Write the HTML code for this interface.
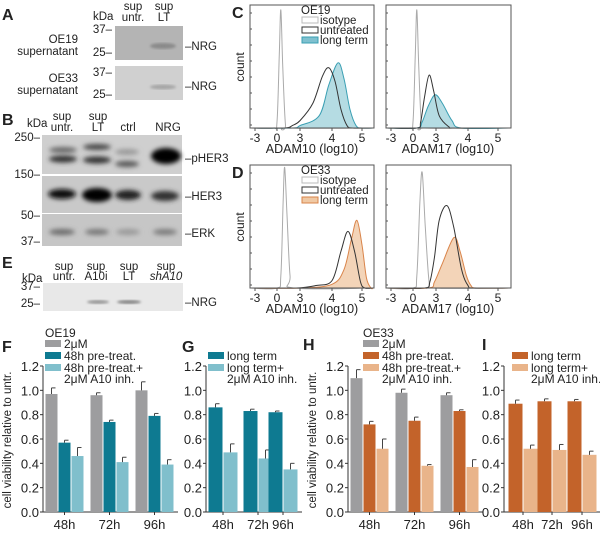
<!DOCTYPE html>
<html><head><meta charset="utf-8"><style>
body{margin:0;background:#fff}
svg{display:block;font-family:"Liberation Sans",sans-serif}
</style></head><body>
<svg id="fig" width="600" height="535" viewBox="0 0 600 535" xmlns="http://www.w3.org/2000/svg">
<defs>
<filter id="blur2" x="-50%" y="-100%" width="200%" height="300%"><feGaussianBlur stdDeviation="2.5"/></filter>
<filter id="blur1"><feGaussianBlur stdDeviation="1.2"/></filter>
</defs>
<g font-size="11.5" fill="#222">
<!-- Panel A -->
<text x="2" y="20" font-size="16" font-weight="bold">A</text>
<text x="93" y="20">kDa</text>
<text x="133" y="10" text-anchor="middle">sup</text>
<text x="133" y="21" text-anchor="middle">untr.</text>
<text x="164" y="10" text-anchor="middle">sup</text>
<text x="164" y="21" text-anchor="middle">LT</text>
<text x="78" y="43" text-anchor="end">OE19</text>
<text x="78" y="55" text-anchor="end">supernatant</text>
<text x="78" y="82" text-anchor="end">OE33</text>
<text x="78" y="94" text-anchor="end">supernatant</text>
<rect x="115" y="26" width="68" height="34" fill="#b4b4b4"/>
<ellipse cx="163" cy="46" rx="13" ry="3" fill="#8a8a8a" filter="url(#blur1)"/>
<rect x="115" y="66" width="68" height="34" fill="#d0d0d0"/>
<ellipse cx="163" cy="87" rx="13" ry="2.5" fill="#a6a6a6" filter="url(#blur1)"/>
<text x="112" y="33" text-anchor="end">37–</text>
<text x="112" y="56" text-anchor="end">25–</text>
<text x="112" y="76" text-anchor="end">37–</text>
<text x="112" y="98" text-anchor="end">25–</text>
<text x="185" y="50">–NRG</text>
<text x="185" y="90">–NRG</text>
<!-- Panel B -->
<text x="2" y="125" font-size="16" font-weight="bold">B</text>
<text x="27" y="127">kDa</text>
<text x="62" y="120" text-anchor="middle">sup</text><text x="62" y="131" text-anchor="middle">untr.</text>
<text x="98" y="120" text-anchor="middle">sup</text><text x="98" y="131" text-anchor="middle">LT</text>
<text x="128" y="131" text-anchor="middle">ctrl</text>
<text x="168" y="131" text-anchor="middle">NRG</text>
<rect x="42" y="135" width="140" height="39" fill="#cfcfcf"/>
<ellipse cx="63" cy="150" rx="14" ry="3" fill="#666" filter="url(#blur2)"/>
<ellipse cx="63" cy="159" rx="14" ry="3.5" fill="#333" filter="url(#blur2)"/>
<ellipse cx="97" cy="147" rx="14" ry="3" fill="#444" filter="url(#blur2)"/>
<ellipse cx="97" cy="160" rx="14" ry="3.5" fill="#333" filter="url(#blur2)"/>
<ellipse cx="127" cy="152" rx="12" ry="3" fill="#999" filter="url(#blur2)"/>
<ellipse cx="127" cy="164" rx="12" ry="3" fill="#555" filter="url(#blur2)"/>
<ellipse cx="166" cy="156" rx="15" ry="8" fill="#000" filter="url(#blur2)"/>
<rect x="42" y="176" width="140" height="37" fill="#c9c9c9"/>
<ellipse cx="62" cy="194" rx="14" ry="5" fill="#111" filter="url(#blur2)"/>
<ellipse cx="97" cy="195" rx="15" ry="7" fill="#000" filter="url(#blur2)"/>
<ellipse cx="128" cy="195" rx="13" ry="5" fill="#222" filter="url(#blur2)"/>
<ellipse cx="165" cy="196" rx="14" ry="5" fill="#333" filter="url(#blur2)"/>
<rect x="42" y="214" width="140" height="32" fill="#c6c6c6"/>
<ellipse cx="62" cy="232" rx="13" ry="3" fill="#6a6a6a" filter="url(#blur2)"/>
<ellipse cx="97" cy="232" rx="12" ry="3" fill="#777" filter="url(#blur2)"/>
<ellipse cx="128" cy="232" rx="12" ry="3" fill="#999" filter="url(#blur2)"/>
<ellipse cx="165" cy="232" rx="12" ry="3" fill="#7a7a7a" filter="url(#blur2)"/>
<text x="40" y="141" text-anchor="end">250–</text>
<text x="40" y="178" text-anchor="end">150–</text>
<text x="40" y="219" text-anchor="end">50–</text>
<text x="40" y="245" text-anchor="end">37–</text>
<text x="185" y="162">–pHER3</text>
<text x="185" y="200">–HER3</text>
<text x="185" y="237">–ERK</text>
<!-- Panel E -->
<text x="2" y="268" font-size="16" font-weight="bold">E</text>
<text x="22" y="282">kDa</text>
<text x="64" y="270" text-anchor="middle">sup</text><text x="64" y="280" text-anchor="middle">untr.</text>
<text x="96" y="270" text-anchor="middle">sup</text><text x="96" y="280" text-anchor="middle">A10i</text>
<text x="129" y="270" text-anchor="middle">sup</text><text x="129" y="280" text-anchor="middle">LT</text>
<text x="166" y="270" text-anchor="middle">sup</text><text x="166" y="280" text-anchor="middle" font-style="italic">shA10</text>
<rect x="43" y="283" width="140" height="28" fill="#e8e8e8"/>
<ellipse cx="98" cy="302" rx="11" ry="2" fill="#999" filter="url(#blur1)"/>
<ellipse cx="129" cy="302" rx="12" ry="2" fill="#888" filter="url(#blur1)"/>
<text x="40" y="290" text-anchor="end">37–</text>
<text x="40" y="307" text-anchor="end">25–</text>
<text x="185" y="306">–NRG</text>
<!-- Panel C/D labels -->
<text x="232" y="18" font-size="16" font-weight="bold">C</text>
<text x="232" y="178" font-size="16" font-weight="bold">D</text>
<text x="244" y="67" transform="rotate(-90 244 67)" text-anchor="middle" font-size="12">count</text>
<text x="244" y="227" transform="rotate(-90 244 227)" text-anchor="middle" font-size="12">count</text>
<!-- Bar panel labels -->
<text x="2" y="352" font-size="16" font-weight="bold">F</text>
<text x="182" y="352" font-size="16" font-weight="bold">G</text>
<text x="303" y="350" font-size="16" font-weight="bold">H</text>
<text x="482" y="350" font-size="16" font-weight="bold">I</text>
</g>
<g id="dyn"></g>
</svg>
<script>
// ---------- Histogram data (value in log10 axis units, fraction of box height) ----------
const histTickValues = [-3, 0, 3, 4, 5];
const histTickLabels = ["-3", "0", "3", "4", "5"];
const cLeftIso = [[-0.5,0],[0,0.05],[0.3,0.6],[0.5,0.96],[0.75,0.5],[1.1,0.03],[1.5,0]];
const cLeftUntr = [[1,0],[2,0.02],[3,0.06],[3.4,0.2],[3.7,0.42],[3.9,0.49],[4.1,0.38],[4.3,0.15],[4.5,0.02],[4.7,0]];
const cLeftLT = [[2,0],[3,0.02],[3.6,0.1],[3.9,0.35],[4.2,0.53],[4.4,0.4],[4.6,0.15],[4.8,0.02],[5,0]];
const cRightIso = [[-0.5,0],[0,0.05],[0.3,0.6],[0.5,0.96],[0.75,0.5],[1.1,0.03],[1.6,0]];
const cRightUntr = [[0.5,0],[1,0.05],[1.5,0.25],[2.1,0.43],[2.7,0.3],[3.1,0.1],[3.4,0.01],[3.6,0]];
const cRightLT = [[0.5,0],[1.2,0.05],[2,0.18],[2.9,0.27],[3.2,0.2],[3.5,0.06],[3.8,0]];
const dLeftIso = [[0,0],[0.5,0.1],[0.8,0.7],[1.0,0.98],[1.3,0.6],[1.7,0.1],[2.2,0]];
const dLeftUntr = [[2.5,0],[3.5,0.02],[4.0,0.06],[4.3,0.3],[4.53,0.46],[4.75,0.3],[4.95,0.05],[5.1,0]];
const dLeftLT = [[3,0],[4,0.03],[4.4,0.15],[4.65,0.4],[4.83,0.55],[5.0,0.35],[5.15,0.08],[5.3,0]];
const dRightIso = [[0,0],[0.5,0.1],[0.9,0.7],[1.2,0.94],[1.6,0.5],[2.1,0.05],[2.6,0]];
const dRightUntr = [[1.5,0],[2.2,0.05],[2.8,0.25],[3.1,0.55],[3.34,0.67],[3.55,0.5],[3.8,0.15],[4.0,0.02],[4.2,0]];
const dRightLT = [[2,0],[2.8,0.05],[3.2,0.2],[3.56,0.41],[3.75,0.3],[3.95,0.1],[4.1,0.02],[4.3,0]];

// ---------- Bar chart data ----------
const timeCategories = ["48h", "72h", "96h"];
const yTickValues = [0, 0.2, 0.4, 0.6, 0.8, 1.0, 1.2];
const yTickLabels = ["0.0", "0.2", "0.4", "0.6", "0.8", "1.0", "1.2"];
const fGray = [0.97, 0.96, 1.0];   const fGrayErr = [0.05, 0.02, 0.07];
const fTeal = [0.57, 0.74, 0.79];  const fTealErr = [0.02, 0.015, 0.02];
const fLight = [0.46, 0.41, 0.39]; const fLightErr = [0.07, 0.04, 0.04];
const gTeal = [0.86, 0.83, 0.82];  const gTealErr = [0.03, 0.015, 0.01];
const gLight = [0.49, 0.44, 0.35]; const gLightErr = [0.07, 0.07, 0.05];
const hGray = [1.1, 0.98, 0.96];   const hGrayErr = [0.07, 0.03, 0.02];
const hOrange = [0.72, 0.75, 0.83];const hOrangeErr = [0.025, 0.03, 0.01];
const hLight = [0.52, 0.38, 0.37]; const hLightErr = [0.08, 0.01, 0.06];
const iOrange = [0.89, 0.91, 0.91];const iOrangeErr = [0.03, 0.02, 0.015];
const iLight = [0.52, 0.51, 0.47]; const iLightErr = [0.03, 0.045, 0.03];

const NS = "http://www.w3.org/2000/svg";
const root = document.getElementById("dyn");
function mk(tag, attrs, parent) {
  const e = document.createElementNS(NS, tag);
  for (const k in attrs) e.setAttribute(k, attrs[k]);
  (parent || root).appendChild(e);
  return e;
}
const histTickOffsets = [5, 27, 50, 82, 112];
function histX(v, left) {
  const t = histTickValues, o = histTickOffsets;
  let off;
  if (v <= t[0]) off = o[0] + (v - t[0]) * (o[1]-o[0])/(t[1]-t[0]);
  else if (v >= t[t.length-1]) off = o[o.length-1] + (v - t[t.length-1]) * 30;
  else {
    for (let i = 0; i < t.length-1; i++) if (v >= t[i] && v <= t[i+1]) { off = o[i] + (v-t[i])/(t[i+1]-t[i])*(o[i+1]-o[i]); break; }
  }
  return left + off;
}
function smoothPath(pts) {
  let d = "M" + pts[0][0] + "," + pts[0][1];
  for (let i = 0; i < pts.length-1; i++) {
    const p0 = pts[Math.max(0,i-1)], p1 = pts[i], p2 = pts[i+1], p3 = pts[Math.min(pts.length-1,i+2)];
    const c1x = p1[0] + (p2[0]-p0[0])/6, c1y = p1[1] + (p2[1]-p0[1])/6;
    const c2x = p2[0] - (p3[0]-p1[0])/6, c2y = p2[1] - (p3[1]-p1[1])/6;
    d += " C" + c1x + "," + c1y + " " + c2x + "," + c2y + " " + p2[0] + "," + p2[1];
  }
  return d;
}
function histPanel(name, left, top, w, h, curves) {
  const g = mk("g", {});
  
  
  const base = top + h;
  curves.forEach(c => {
    const pts = c.data.map(p => [histX(p[0], left), base - p[1]*h]);
    pts.unshift([left + 1, base]); pts.push([left + w - 1, base]);
    const p = mk("path", {d: smoothPath(pts), fill: c.fill, stroke: c.stroke, "stroke-width": 1}, g);
    
    
  });
  const box = mk("rect", {x: left, y: top, width: w, height: h, fill: "none", stroke: "#555", "stroke-width": 1}, g);
  
  
  for (let i = 0; i < 8; i++) mk("line", {x1: left, x2: left+2, y1: top + 8 + i*16, y2: top + 8 + i*16, stroke: "#555"}, g);
  histTickValues.forEach((v, i) => {
    const x = histX(v, left);
    mk("line", {x1: x, x2: x, y1: base, y2: base+3, stroke: "#555"}, g);
    const t = mk("text", {x: x, y: base + 14, "text-anchor": "middle", "font-size": 12, fill: "#222"}, g);
    t.textContent = histTickLabels[i];
    
    
  });
  return g;
}
const isoStyle = {fill: "none", stroke: "#aaa"};
const untrStyle = {fill: "none", stroke: "#333"};
histPanel("histogram-c-adam10", 250, 5, 124, 123, [
  {name:"isotype-curve", data:cLeftIso, ...isoStyle},
  {name:"long-term-curve", data:cLeftLT, fill:"#b5dce3", stroke:"#3a9fb3"},
  {name:"untreated-curve", data:cLeftUntr, ...untrStyle}]);
histPanel("histogram-c-adam17", 386, 5, 125, 123, [
  {name:"isotype-curve", data:cRightIso, ...isoStyle},
  {name:"long-term-curve", data:cRightLT, fill:"#b5dce3", stroke:"#3a9fb3"},
  {name:"untreated-curve", data:cRightUntr, ...untrStyle}]);
histPanel("histogram-d-adam10", 250, 165, 124, 123, [
  {name:"isotype-curve", data:dLeftIso, ...isoStyle},
  {name:"long-term-curve", data:dLeftLT, fill:"#f3d4b8", stroke:"#d9844a"},
  {name:"untreated-curve", data:dLeftUntr, ...untrStyle}]);
histPanel("histogram-d-adam17", 386, 165, 125, 123, [
  {name:"isotype-curve", data:dRightIso, ...isoStyle},
  {name:"long-term-curve", data:dRightLT, fill:"#f3d4b8", stroke:"#d9844a"},
  {name:"untreated-curve", data:dRightUntr, ...untrStyle}]);
function txt(x, y, s, name, extra) {
  const t = mk("text", Object.assign({x: x, y: y, "font-size": 11, fill: "#222"}, extra || {}));
  t.textContent = s;
  
  
  return t;
}
[[312,"ADAM10 (log10)"],[448,"ADAM17 (log10)"]].forEach(a => {
  txt(a[0], 153, a[1], "x-axis-title", {"text-anchor":"middle","font-size":12.5});
  txt(a[0], 313, a[1], "x-axis-title", {"text-anchor":"middle","font-size":12.5});
});
function histLegend(y0, title, fill, stroke) {
  txt(301, y0, title, "legend-title", {"font-size":11.5});
  const items = [["isotype","#fff","#bbb"],["untreated","#fff","#333"],["long term",fill,stroke]];
  items.forEach((it, i) => {
    const y = y0 + 10 + i*10;
    const r = mk("rect", {x: 302, y: y-7, width: 16, height: 6, fill: it[1], stroke: it[2]});
    
    
    txt(320, y, it[0], "legend-entry", {"font-size":11.5});
  });
}
histLegend(14, "OE19", "#7fc0cf", "#3a9fb3");
histLegend(174, "OE33", "#f0c9a4", "#d9844a");

// ---------- Bar charts ----------
const yZero = 512, yPerUnit = (512 - 366) / 1.2;
function yPix(v) { return yZero - v * yPerUnit; }
function barPanel(name, axisX, groupStarts, barW, series, ylabel) {
  const g = mk("g", {});
  
  
  const right = groupStarts[groupStarts.length-1] + series.length*barW + 4;
  mk("line", {x1: axisX, x2: axisX, y1: yPix(1.2), y2: yZero, stroke: "#333"}, g);
  mk("line", {x1: axisX, x2: right, y1: yZero, y2: yZero, stroke: "#333"}, g);
  yTickValues.forEach((v, i) => {
    mk("line", {x1: axisX-3, x2: axisX, y1: yPix(v), y2: yPix(v), stroke: "#333"}, g);
    const t = mk("text", {x: axisX-4, y: yPix(v)+5, "text-anchor":"end", "font-size": 13, fill:"#222"}, g);
    t.textContent = yTickLabels[i];
    
    
  });
  timeCategories.forEach((c, ci) => {
    const cx = groupStarts[ci] + series.length*barW/2;
    mk("line", {x1: cx, x2: cx, y1: yZero, y2: yZero+3, stroke: "#333"}, g);
    const t = mk("text", {x: cx, y: yZero+17, "text-anchor":"middle", "font-size": 13, fill:"#222"}, g);
    t.textContent = c;
    
    
    series.forEach((s, si) => {
      const x = groupStarts[ci] + si*barW + 0.5;
      const v = s.vals[ci], e = s.errs[ci];
      const r = mk("rect", {x: x, y: yPix(v), width: barW-1, height: yZero - yPix(v), fill: s.color}, g);
      
      
      const ex = x + (barW-1)/2;
      mk("line", {x1: ex, x2: ex, y1: yPix(v), y2: yPix(v+e), stroke: "#444"}, g);
      mk("line", {x1: ex, x2: ex+4, y1: yPix(v+e), y2: yPix(v+e), stroke: "#444"}, g);
    });
  });
  if (ylabel) {
    const t = mk("text", {x: axisX-32, y: 440, transform: "rotate(-90 " + (axisX-32) + " 440)", "text-anchor":"middle", "font-size": 11.5, fill:"#222"}, g);
    t.textContent = "cell viability relative to untr.";
    
    
  }
}
const GRAY = "#9d9d9f", TEAL = "#0e7a91", LTEAL = "#80bfcc", ORANGE = "#c3632a", LORANGE = "#e9b48a";
barPanel("bar-chart-f", 43, [45, 90, 135], 13, [
  {key:"2um", vals:fGray, errs:fGrayErr, color:GRAY},
  {key:"48h-pretreat", vals:fTeal, errs:fTealErr, color:TEAL},
  {key:"48h-pretreat-a10", vals:fLight, errs:fLightErr, color:LTEAL}], true);
barPanel("bar-chart-g", 206, [208, 243, 268], 15, [
  {key:"long-term", vals:gTeal, errs:gTealErr, color:TEAL},
  {key:"long-term-a10", vals:gLight, errs:gLightErr, color:LTEAL}], false);
barPanel("bar-chart-h", 348, [350, 395, 440], 13, [
  {key:"2um", vals:hGray, errs:hGrayErr, color:GRAY},
  {key:"48h-pretreat", vals:hOrange, errs:hOrangeErr, color:ORANGE},
  {key:"48h-pretreat-a10", vals:hLight, errs:hLightErr, color:LORANGE}], true);
barPanel("bar-chart-i", 504, [508, 537, 567], 15, [
  {key:"long-term", vals:iOrange, errs:iOrangeErr, color:ORANGE},
  {key:"long-term-a10", vals:iLight, errs:iLightErr, color:LORANGE}], false);

function barLegend(x, title, rows) {
  if (title) txt(x, 337, title, "legend-title", {"font-size":12});
  rows.forEach(r => {
    const s = mk("rect", {x: x, y: r.y - 8, width: 16, height: 7, fill: r.color});
    
    
    r.lines.forEach((l, li) => txt(x + 19, r.y + li*11, l, "legend-entry", {"font-size":12}));
  });
}
barLegend(45, "OE19", [{y:348,color:GRAY,lines:["2μM"]},{y:360,color:TEAL,lines:["48h pre-treat."]},{y:372,color:LTEAL,lines:["48h pre-treat.+","2μM A10 inh."]}]);
barLegend(208, null, [{y:360,color:TEAL,lines:["long term"]},{y:372,color:LTEAL,lines:["long term+","2μM A10 inh."]}]);
barLegend(363, "OE33", [{y:348,color:GRAY,lines:["2μM"]},{y:360,color:ORANGE,lines:["48h pre-treat."]},{y:372,color:LORANGE,lines:["48h pre-treat.+","2μM A10 inh."]}]);
barLegend(512, null, [{y:360,color:ORANGE,lines:["long term"]},{y:372,color:LORANGE,lines:["long term+","2μM A10 inh."]}]);
</script>
</body></html>
